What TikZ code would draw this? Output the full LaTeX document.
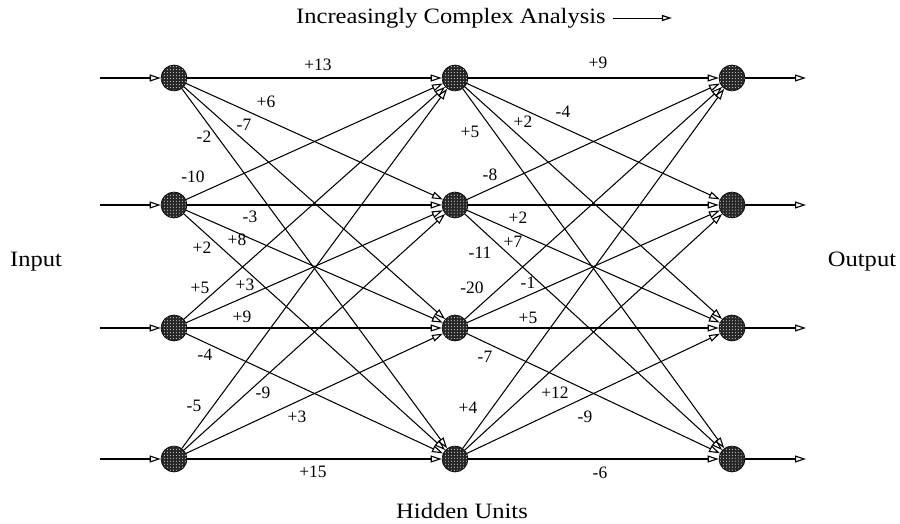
\documentclass[tikz,border=0pt]{standalone}
\usepackage{fontspec}
\setmainfont{Liberation Serif}
\newfontfamily\capfont[FakeStretch=1.12]{Liberation Serif}
\usetikzlibrary{arrows.meta,patterns}
\begin{document}
\begin{tikzpicture}[x=1bp,y=-1bp,
  unit/.style={circle, draw=black, line width=0.6bp, minimum size=26bp, inner sep=0pt,
    preaction={fill=black!85}, pattern=dots, pattern color=white},
  conn/.style={line width=1.05bp, -{Triangle[open,length=11bp,width=7bp,line width=1.1bp]}},
  lbl/.style={font=\fontsize{17.5}{17.5}\selectfont, inner sep=0pt},
  big/.style={font=\capfont\fontsize{22}{22}\selectfont, inner sep=0pt}]
\useasboundingbox (0,0) rectangle (900,524);

% units
\foreach \n/\y in {1/78,2/205,3/328,4/459}{
  \node[unit] (a\n) at (174,\y) {};
  \node[unit] (b\n) at (455,\y) {};
  \node[unit] (c\n) at (732,\y) {};
  \coordinate (in\n) at (100,\y);
  \coordinate (out\n) at (806,\y);
}

% input and output arrows
\foreach \n in {1,2,3,4}{
  \draw[conn] (in\n) -- (a\n);
  \draw[conn] (c\n) -- (out\n);
}

% layer connections
\foreach \i in {1,2,3,4}{
  \foreach \j in {1,2,3,4}{
    \draw[conn] (a\i) -- (b\j);
    \draw[conn] (b\i) -- (c\j);
  }
}

% weights, first layer
\node[lbl] (w11) at (318,65)  {+13};
\node[lbl] (w12) at (266,102) {+6};
\node[lbl] (w13) at (244,125) {-7};
\node[lbl] (w14) at (204,137) {-2};
\node[lbl] (w21) at (193,177) {-10};
\node[lbl] (w22) at (250,217) {-3};
\node[lbl] (w23) at (237,240) {+8};
\node[lbl] (w24) at (202,248) {+2};
\node[lbl] (w31) at (200,288) {+5};
\node[lbl] (w32) at (245,285) {+3};
\node[lbl] (w33) at (242,317) {+9};
\node[lbl] (w34) at (205,355) {-4};
\node[lbl] (w41) at (194,406) {-5};
\node[lbl] (w42) at (263,393) {-9};
\node[lbl] (w43) at (297,417) {+3};
\node[lbl] (w44) at (313,472) {+15};

% weights, second layer
\node[lbl] (v11) at (598,63)  {+9};
\node[lbl] (v12) at (563,112) {-4};
\node[lbl] (v13) at (523,122) {+2};
\node[lbl] (v14) at (470,132) {+5};
\node[lbl] (v21) at (490,175) {-8};
\node[lbl] (v22) at (518,218) {+2};
\node[lbl] (v23) at (513,242) {+7};
\node[lbl] (v24) at (480,253) {-11};
\node[lbl] (v31) at (472,288) {-20};
\node[lbl] (v32) at (528,283) {-1};
\node[lbl] (v33) at (528,318) {+5};
\node[lbl] (v34) at (485,357) {-7};
\node[lbl] (v41) at (468,408) {+4};
\node[lbl] (v42) at (555,393) {+12};
\node[lbl] (v43) at (585,417) {-9};
\node[lbl] (v44) at (600,473) {-6};

% captions
\node[big, anchor=west] (title) at (296,18) {Increasingly Complex Analysis};
\coordinate (tarr) at ([xshift=66bp]title.east);
\draw[line width=0.8bp, -{Triangle[open,length=10bp,width=6bp,line width=1.2bp]}] ([xshift=7bp]title.east) -- (tarr);
\node[big] (input) at (36,262) {Input};
\node[big] (output) at (862,262) {Output};
\node[big] (hidden) at (462,511) {Hidden Units};
\end{tikzpicture}
\end{document}
